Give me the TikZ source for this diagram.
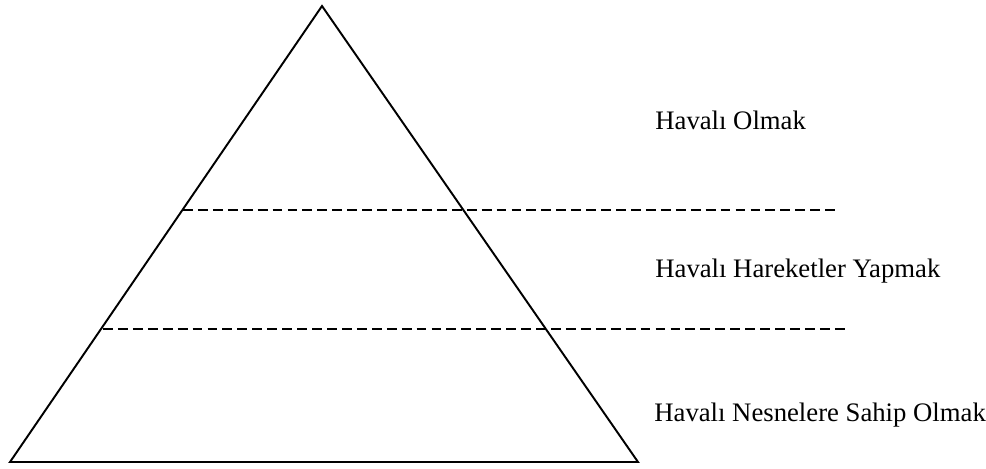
\documentclass[tikz,border=0pt]{standalone}
\usepackage{fontspec}
\setmainfont{Liberation Serif}
\usetikzlibrary{positioning}
\tikzset{
    pyrline/.style={draw=black, line width=1.1pt, line join=miter},
    levelline/.style={draw=black, line width=0.6pt, dash pattern=on 5.6pt off 2.9pt},
    levellbl/.style={anchor=base west, inner sep=0pt, font=\fontsize{15.2}{18}\selectfont}
}
\begin{document}
\begin{tikzpicture}[x=0.02cm, y=-0.02cm]
    \useasboundingbox (0,0) rectangle (986,469);
    % pyramid
    \coordinate (apex) at (322,6);
    \coordinate (bl) at (10,462);
    \coordinate (br) at (638,462);
    \draw[pyrline] (apex) -- (bl) -- (br) -- cycle;

    % level separators
    \coordinate (d1a) at (183,210);
    \coordinate (d1b) at (838,210);
    \coordinate (d2a) at (103,329);
    \coordinate (d2b) at (848,329);
    \draw[levelline] (d1a) -- (d1b);
    \draw[levelline] (d2a) -- (d2b);

    % labels
    \node[levellbl] (lvl1) at (655,130) {Havalı Olmak};
    \node[levellbl] (lvl2) at (655,277) {Havalı Hareketler Yapmak};
    \node[levellbl] (lvl3) at (654,421) {Havalı Nesnelere Sahip Olmak};
\end{tikzpicture}
\end{document}
